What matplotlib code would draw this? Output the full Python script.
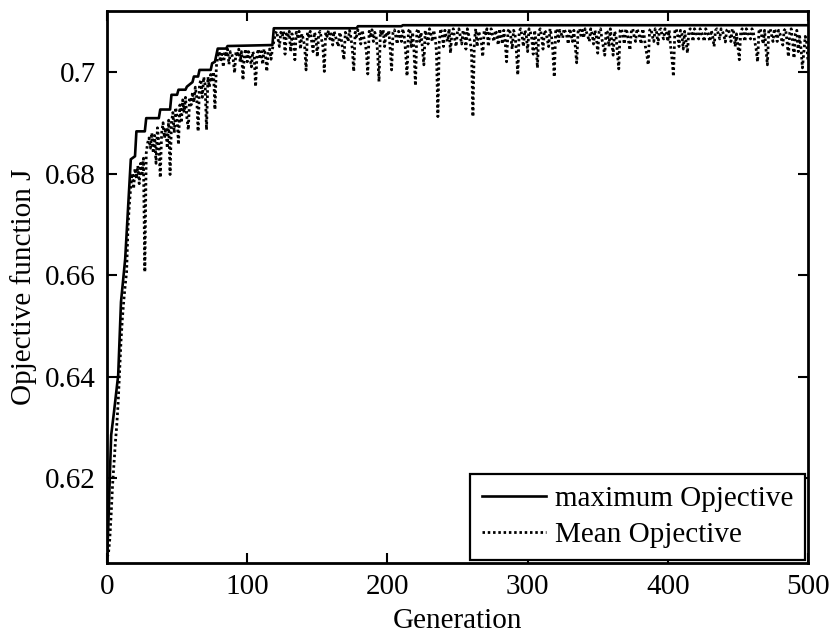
import numpy as np
import matplotlib
matplotlib.use('Agg')
from matplotlib import pyplot as plt
from matplotlib.ticker import FuncFormatter

# best individual per generation (change points of the step curve)
max_gen = [0, 1, 2, 3, 5, 8, 10, 13, 15, 17, 20, 21, 27, 28, 37, 38, 45, 46, 50, 51,
           56, 57, 61, 62, 65, 66, 74, 75, 77, 79, 85, 86, 118, 119, 178, 179, 210, 211, 500]
max_val = [0.6035, 0.6110, 0.6200, 0.6285, 0.6330, 0.6403, 0.6547, 0.6632, 0.6730, 0.6828,
           0.6834, 0.6883, 0.6883, 0.6909, 0.6909, 0.6926, 0.6926, 0.6955, 0.6955, 0.6965,
           0.6965, 0.6971, 0.6980, 0.6991, 0.6991, 0.7004, 0.7004, 0.7017, 0.7020, 0.7046,
           0.7046, 0.7051, 0.7053, 0.7086, 0.7086, 0.7090, 0.7090, 0.7092, 0.7092]

# population mean, generations 0..500
mean_val = [
    0.6045, 0.6050, 0.6080, 0.6130, 0.6187, 0.6230, 0.6270, 0.6305, 0.6350, 0.6410,
    0.6470, 0.6515, 0.6550, 0.6580, 0.6606, 0.6696, 0.6740, 0.6775, 0.6800, 0.6770,
    0.6810, 0.6790, 0.6815, 0.6780, 0.6820, 0.6800, 0.6830, 0.6606, 0.6840, 0.6860,
    0.6870, 0.6850, 0.6880, 0.6840, 0.6875, 0.6820, 0.6890, 0.6860, 0.6792, 0.6880,
    0.6900, 0.6870, 0.6890, 0.6850, 0.6905, 0.6798, 0.6900, 0.6920, 0.6880, 0.6930,
    0.6910, 0.6857, 0.6935, 0.6900, 0.6945, 0.6920, 0.6950, 0.6910, 0.6886, 0.6950,
    0.6935, 0.6960, 0.6940, 0.6970, 0.6950, 0.6883, 0.6975, 0.6985, 0.6950, 0.6990,
    0.6975, 0.6886, 0.6990, 0.6970, 0.6995, 0.6980, 0.7000, 0.6926, 0.7010, 0.7030,
    0.7040, 0.7020, 0.7035, 0.7010, 0.7040, 0.7030, 0.7045, 0.7015, 0.7040, 0.7035,
    0.7025, 0.6998, 0.7040, 0.7030, 0.7045, 0.7020, 0.7040, 0.6984, 0.7035, 0.7045,
    0.7020, 0.7040, 0.7030, 0.7010, 0.7040, 0.7030, 0.6971, 0.7035, 0.7045, 0.7025,
    0.7040, 0.7015, 0.7045, 0.7035, 0.7001, 0.7040, 0.7045, 0.7025, 0.7045, 0.7060,
    0.7075, 0.7080, 0.7065, 0.7050, 0.7078, 0.7070, 0.7080, 0.7035, 0.7075, 0.7068,
    0.7080, 0.7040, 0.7075, 0.7060, 0.7024, 0.7078, 0.7070, 0.7080, 0.7045, 0.7075,
    0.7065, 0.7050, 0.7004, 0.7078, 0.7070, 0.7080, 0.7060, 0.7040, 0.7078, 0.7068,
    0.7030, 0.7075, 0.7080, 0.7065, 0.7050, 0.7001, 0.7078, 0.7070, 0.7082, 0.7065,
    0.7075, 0.7053, 0.7080, 0.7070, 0.7060, 0.7050, 0.7078, 0.7068, 0.7045, 0.7024,
    0.7078, 0.7070, 0.7060, 0.7082, 0.7068, 0.7045, 0.7001, 0.7078, 0.7070, 0.7083,
    0.7075, 0.7055, 0.7082, 0.7070, 0.7060, 0.7040, 0.6996, 0.7080, 0.7072, 0.7083,
    0.7060, 0.7078, 0.7068, 0.7040, 0.6981, 0.7080, 0.7072, 0.7083, 0.7050, 0.7078,
    0.7070, 0.7082, 0.7045, 0.7004, 0.7078, 0.7083, 0.7070, 0.7055, 0.7080, 0.7075,
    0.7060, 0.7085, 0.7070, 0.7040, 0.6992, 0.7080, 0.7085, 0.7050, 0.7078, 0.7040,
    0.6973, 0.7080, 0.7085, 0.7060, 0.7078, 0.7045, 0.7014, 0.7082, 0.7070, 0.7055,
    0.7085, 0.7075, 0.7060, 0.7082, 0.7070, 0.7040, 0.6912, 0.7060, 0.7085, 0.7075,
    0.7050, 0.7082, 0.7070, 0.7060, 0.7085, 0.7037, 0.7078, 0.7085, 0.7065, 0.7050,
    0.7080, 0.7085, 0.7070, 0.7055, 0.7082, 0.7075, 0.7045, 0.7085, 0.7072, 0.7060,
    0.7040, 0.6912, 0.7060, 0.7085, 0.7050, 0.7080, 0.7072, 0.7060, 0.7030, 0.7082,
    0.7075, 0.7085, 0.7050, 0.7078, 0.7085, 0.7070, 0.7060, 0.7082, 0.7075, 0.7053,
    0.7085, 0.7072, 0.7055, 0.7082, 0.7060, 0.7020, 0.7080, 0.7085, 0.7070, 0.7045,
    0.7082, 0.7075, 0.7040, 0.6994, 0.7080, 0.7085, 0.7072, 0.7050, 0.7082, 0.7075,
    0.7040, 0.7085, 0.7078, 0.7065, 0.7035, 0.7082, 0.7060, 0.7008, 0.7080, 0.7085,
    0.7070, 0.7045, 0.7082, 0.7078, 0.7065, 0.7050, 0.7085, 0.7072, 0.7040, 0.6990,
    0.7080, 0.7085, 0.7060, 0.7082, 0.7075, 0.7067, 0.7085, 0.7078, 0.7070, 0.7055,
    0.7085, 0.7075, 0.7060, 0.7082, 0.7050, 0.7018, 0.7080, 0.7085, 0.7072, 0.7082,
    0.7067, 0.7085, 0.7078, 0.7070, 0.7060, 0.7085, 0.7075, 0.7055, 0.7082, 0.7070,
    0.7037, 0.7080, 0.7085, 0.7065, 0.7050, 0.7033, 0.7082, 0.7078, 0.7050, 0.7085,
    0.7060, 0.7033, 0.7080, 0.7072, 0.7040, 0.7006, 0.7082, 0.7085, 0.7070, 0.7055,
    0.7085, 0.7078, 0.7060, 0.7043, 0.7082, 0.7085, 0.7070, 0.7060, 0.7085, 0.7078,
    0.7068, 0.7055, 0.7085, 0.7075, 0.7050, 0.7035, 0.7014, 0.7082, 0.7085, 0.7070,
    0.7060, 0.7085, 0.7078, 0.7055, 0.7082, 0.7085, 0.7072, 0.7065, 0.7085, 0.7078,
    0.7060, 0.7082, 0.7050, 0.7025, 0.6991, 0.7080, 0.7085, 0.7072, 0.7050, 0.7082,
    0.7075, 0.7045, 0.7080, 0.7060, 0.7037, 0.7082, 0.7085, 0.7075, 0.7060, 0.7085,
    0.7080, 0.7070, 0.7065, 0.7085, 0.7078, 0.7070, 0.7060, 0.7085, 0.7080, 0.7072,
    0.7060, 0.7082, 0.7070, 0.7050, 0.7082, 0.7085, 0.7075, 0.7065, 0.7085, 0.7080,
    0.7072, 0.7059, 0.7082, 0.7085, 0.7075, 0.7060, 0.7085, 0.7078, 0.7050, 0.7075,
    0.7050, 0.7024, 0.7080, 0.7085, 0.7072, 0.7060, 0.7085, 0.7080, 0.7070, 0.7065,
    0.7085, 0.7078, 0.7060, 0.7045, 0.7020, 0.7080, 0.7085, 0.7070, 0.7055, 0.7082,
    0.7045, 0.7014, 0.7080, 0.7085, 0.7072, 0.7060, 0.7085, 0.7078, 0.7060, 0.7082,
    0.7075, 0.7065, 0.7053, 0.7082, 0.7085, 0.7060, 0.7030, 0.7078, 0.7085, 0.7060,
    0.7027, 0.7075, 0.7082, 0.7040, 0.7070, 0.7045, 0.7008, 0.7040, 0.7070, 0.7060,
    0.7020,
]
mean_gen = np.arange(len(mean_val))

yticks = [0.62, 0.64, 0.66, 0.68, 0.7]
xticks = [0, 100, 200, 300, 400, 500]

plt.rcParams['font.family'] = ['Liberation Serif', 'DejaVu Serif']
plt.rcParams['font.size'] = 21

fig = plt.figure(figsize=(8.37, 6.36), dpi=100)
ax = fig.add_axes([0.1278, 0.1148, 0.8376, 0.8679])

ax.plot(max_gen, max_val, color='k', lw=1.9, label='maximum Opjective')
ax.plot(mean_gen, mean_val, color='k', lw=2.0, ls=(0, (0.9, 1.0)), label='Mean Opjective')

ax.set_xlim(0, 500)
ax.set_ylim(0.6033, 0.7120)
ax.set_xticks(xticks)
ax.set_yticks(yticks)
ax.yaxis.set_major_formatter(FuncFormatter(lambda v, p: '%g' % v))
ax.tick_params(direction='in', length=7, width=1.5, top=True, right=True, pad=8)
for s in ax.spines.values():
    s.set_linewidth(2)

ax.set_xlabel('Generation', labelpad=6)
ax.set_ylabel('Opjective function J', labelpad=6)

leg = ax.legend(loc='lower right', fancybox=False, framealpha=1, edgecolor='k',
                handlelength=2.2, handletextpad=0.3, borderpad=0.4, labelspacing=0.35,
                borderaxespad=0.1)
leg.get_frame().set_linewidth(1.6)

fig.savefig('out.png', dpi=100)
